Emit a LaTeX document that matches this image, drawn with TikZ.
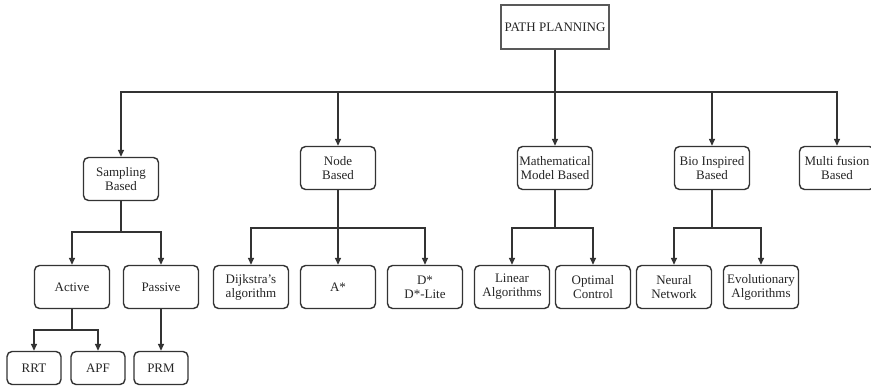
\documentclass[tikz,border=0pt]{standalone}
\usepackage{fontspec}
\setmainfont{Liberation Serif}
\usetikzlibrary{arrows.meta}
\begin{document}
\begin{tikzpicture}[x=1pt,y=-1pt,
  every node/.style={font=\fontsize{13}{14}\selectfont, text=black!85, align=center, inner sep=0pt},
  rootbox/.style={draw=black!65, line width=1.3pt, minimum width=108pt, minimum height=44pt},
  catbox/.style={draw=black!80, line width=1.4pt, rounded corners=5pt, minimum width=75pt, minimum height=43pt},
  leafbox/.style={draw=black!80, line width=1.4pt, rounded corners=5pt, minimum width=54pt, minimum height=33pt},
  conn/.style={draw=black!80, line width=1.4pt},
  arr/.style={conn, -{Triangle[length=7pt,width=6pt]}}
]
\useasboundingbox (0,0) rectangle (871,386);
\fill[white] (0,0) rectangle (871,386);
% root
\node[rootbox] (root) at (555,27) {PATH PLANNING};
% level 1
\node[catbox] (samp) at (121,179) {Sampling\\Based};
\node[catbox] (node) at (338,168) {Node\\Based};
\node[catbox] (math) at (555,168) {Mathematical\\Model Based};
\node[catbox] (bio)  at (712,168) {Bio Inspired\\Based};
\node[catbox] (multi) at (837,168) {Multi fusion\\Based};
% level 2
\node[catbox] (act) at (72,287) {Active};
\node[catbox] (pas) at (161,287) {Passive};
\node[catbox] (dij) at (251,287) {Dijkstra's\\algorithm};
\node[catbox] (astar) at (338,287) {A*};
\node[catbox] (dstar) at (425,287) {D*\\D*-Lite};
\node[catbox] (lin) at (512,287) {Linear\\Algorithms};
\node[catbox] (opt) at (593,287) {Optimal\\Control};
\node[catbox] (nn) at (674,287) {Neural\\Network};
\node[catbox] (evo) at (761,287) {Evolutionary\\Algorithms};
% level 3
\node[leafbox] (rrt) at (34,368) {RRT};
\node[leafbox] (apf) at (98,368) {APF};
\node[leafbox] (prm) at (161,368) {PRM};
% junctions
\coordinate (j0) at (555,92);
\coordinate (js) at (121,232);
\coordinate (jn) at (338,228);
\coordinate (jm) at (555,228);
\coordinate (jb) at (712,228);
\coordinate (ja) at (72,330);
% connectors
\draw[conn] (root.south) -- (j0);
\foreach \c in {samp,node,math,bio,multi} \draw[arr] (j0) -| (\c);
\draw[conn] (samp.south) -- (js);
\draw[arr] (js) -| (act);
\draw[arr] (js) -| (pas);
\draw[conn] (node.south) -- (jn);
\foreach \c in {dij,astar,dstar} \draw[arr] (jn) -| (\c);
\draw[conn] (math.south) -- (jm);
\foreach \c in {lin,opt} \draw[arr] (jm) -| (\c);
\draw[conn] (bio.south) -- (jb);
\foreach \c in {nn,evo} \draw[arr] (jb) -| (\c);
\draw[conn] (act.south) -- (ja);
\draw[arr] (ja) -| (rrt);
\draw[arr] (ja) -| (apf);
\draw[arr] (pas) -- (prm);
\end{tikzpicture}
\end{document}
